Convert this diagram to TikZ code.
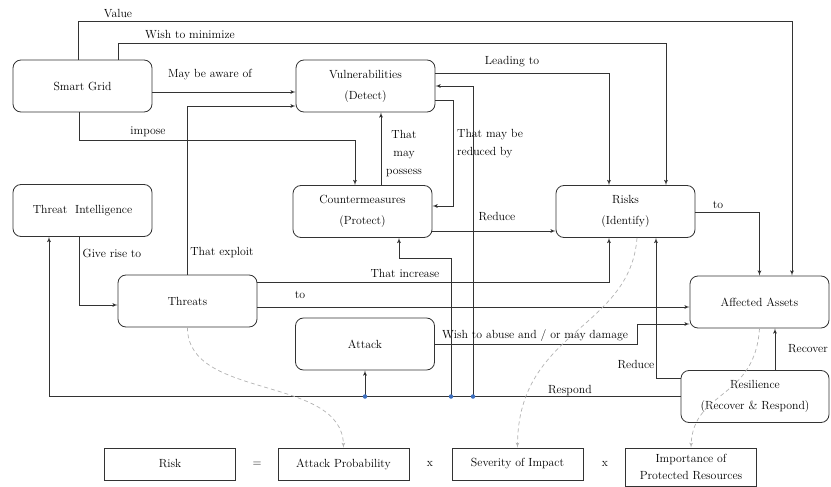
\documentclass[tikz,border=0pt]{standalone}
\usepackage{tikz}
\usetikzlibrary{shapes,arrows,positioning}
\definecolor{dotblue}{RGB}{60,110,190}
\tikzset{
      block/.style = {draw=black!80, line width=0.8pt, rounded corners=8pt, minimum width=139pt, minimum height=52pt, align=center, font=\fontsize{11.8}{21}\selectfont},
      term/.style  = {draw=black!80, line width=0.8pt, minimum width=131pt, minimum height=32pt, align=center, font=\fontsize{11.8}{17}\selectfont},
      flow/.style  = {black!80, line width=0.8pt, ->, >=latex'},
      hint/.style  = {black!30, line width=0.7pt, dash pattern=on 4pt off 3pt, ->, >=latex'},
      lbl/.style   = {inner sep=1pt, align=center, text=black, font=\fontsize{11.8}{18}\selectfont},
      junc/.style  = {circle, fill=dotblue, inner sep=0pt, minimum size=4.5pt},
    }

\begin{document}
\begin{tikzpicture}[x=1pt,y=-1pt]
  \useasboundingbox (0,0) rectangle (831,487);
  % blocks
  \node[block] (sg)   at (82.5,86)    {Smart Grid};
  \node[block] (vul)  at (365.5,86)   {Vulnerabilities\\(Detect)};
  \node[block] (cm)   at (362.5,211.5) {Countermeasures\\(Protect)};
  \node[block] (risk) at (625.5,211.5) {Risks\\(Identify)};
  \node[block] (ti)   at (82.5,210.5) {Threat\ \ Intelligence};
  \node[block] (thr)  at (187.5,301)  {Threats};
  \node[block] (att)  at (365,344)    {Attack};
  \node[block] (aa)   at (759.5,302)  {Affected Assets};
  \node[block, minimum width=148pt] (res) at (755,396.5) {Resilience\\(Recover \& Respond)};

  % formula
  \node[term] (rsk) at (170,464)   {Risk};
  \node[term] (ap)  at (343.5,464) {Attack Probability};
  \node[term] (sev) at (517.5,464) {Severity of Impact};
  \node[term, minimum height=38pt] (imp) at (691,467) {Importance of\\Protected Resources};
  \node[lbl] (eq) at (257,464) {=};
  \node[lbl] (x1) at (430,464) {x};
  \node[lbl] (x2) at (605,464) {x};

  % junctions on the respond line
  \coordinate (d1) at (365,396.5);
  \coordinate (d2) at (451,396.5);
  \coordinate (d3) at (473,396.5);

  \draw[flow] (sg.north -| 78,0) -- ++(0,-38) -| (aa.north -| 792,0);
  \draw[flow] (sg.north -| 118,0) -- ++(0,-16) -| (risk.north -| 666,0);
  \draw[flow] (sg.east |- 0,92) -- (vul.west |- 0,92);
  \draw[flow] (thr.north) |- (vul.west |- 0,106);
  \draw[flow] (sg.south -| 79,0) -- ++(0,28) -| (cm.north -| 355,0);
  \draw[flow] (cm.north -| 381,0) -- (vul.south -| 381,0);
  \draw[flow] (vul.east |- 0,100) -- ++(18,0) |- (cm.east |- 0,206);
  \draw[flow] (vul.east |- 0,73) -| (risk.north -| 609,0);
  \draw[flow] (d3) |- (vul.east);
  \draw[flow] (d2) -- (d2 |- 0,258) -| (cm.south -| 399,0);
  \draw[flow] (d1) -- (att.south);
  \draw[flow] (res.west) -| (ti.south -| 49,0);
  \draw[flow] (cm.east |- 0,231) -- (risk.west |- 0,231);
  \draw[flow] (thr.east |- 0,282) -| (risk.south -| 609,0);
  \draw[flow] (thr.east |- 0,307) -- (aa.west |- 0,307);
  \draw[flow] (att.east) -- (att.east -| 637,0) |- (aa.west |- 0,324);
  \draw[flow] (res.west |- 0,378) -| (risk.south -| 656,0);
  \draw[flow] (res.north -| 775,0) -- (aa.south -| 775,0);
  \draw[flow] (risk.east |- 0,212) -| (aa.north);
  \draw[flow] (ti.south -| 79,0) |- (thr.west |- 0,305);

  \node[junc] (j1) at (d1) {};
  \node[junc] (j2) at (d2) {};
  \node[junc] (j3) at (d3) {};

  % what each factor comes from
  \draw[hint] (thr.south) .. controls (187,400) and (342,375) .. (ap.north);
  \draw[hint] (risk.south -| 637,0) .. controls (630,330) and (518,330) .. (sev.north);
  \draw[hint] (aa.south) .. controls (755,400) and (693,390) .. (imp.north);

  % labels
  \node[lbl] (l-value)   at (118,14)  {Value};
  \node[lbl] (l-min)     at (190,35)  {Wish to minimize};
  \node[lbl] (l-aware)   at (210,75)  {May be aware of};
  \node[lbl] (l-impose)  at (148,132) {impose};
  \node[lbl] (l-possess) at (404,153.5) {That\\may\\possess};
  \node[lbl, anchor=west, align=left] (l-reduced) at (456,144) {That may be\\reduced by};
  \node[lbl] (l-lead)    at (512,62)  {Leading to};
  \node[lbl] (l-rise)    at (112,253) {Give rise to};
  \node[lbl] (l-exploit) at (222,253) {That exploit};
  \node[lbl] (l-reduce)  at (497,217) {Reduce};
  \node[lbl] (l-incr)    at (405,273) {That increase};
  \node[lbl] (l-to)      at (300,295) {to};
  \node[lbl] (l-to2)     at (718,205) {to};
  \node[lbl] (l-abuse)   at (535,336) {Wish to abuse and / or may damage};
  \node[lbl] (l-reduce2) at (636,365) {Reduce};
  \node[lbl] (l-recover) at (808,349) {Recover};
  \node[lbl] (l-respond) at (570,391) {Respond};
\end{tikzpicture}
\end{document}
